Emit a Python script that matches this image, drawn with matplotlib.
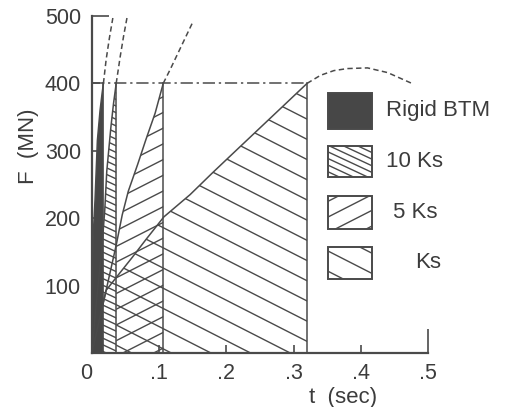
import matplotlib
matplotlib.use("Agg")
import matplotlib.pyplot as plt
import numpy as np
from matplotlib.patches import Polygon, Rectangle
from matplotlib.lines import Line2D
from matplotlib.transforms import IdentityTransform

# --- data (t in s, F in MN) ---
t_rigid = [0, 0.0015, 0.0045, 0.008, 0.012, 0.015, 0.017]
F_rigid = [0, 168, 227, 315, 360, 385, 400]
t_rigid_ext = [0.017, 0.021, 0.026, 0.031]
F_rigid_ext = [400, 435, 468, 497]

t_10ks = [0, 0.005, 0.01, 0.015, 0.019, 0.022, 0.028, 0.032, 0.036]
F_10ks = [0, 60, 110, 160, 212, 270, 334, 370, 400]
t_10ks_ext = [0.036, 0.042, 0.047, 0.052]
F_10ks_ext = [400, 440, 470, 497]

t_5ks = [0, 0.01, 0.021, 0.036, 0.045, 0.054, 0.068, 0.08, 0.094, 0.106]
F_5ks = [0, 45, 93, 160, 205, 240, 280, 316, 356, 400]
t_5ks_ext = [0.106, 0.117, 0.128, 0.139, 0.150]
F_5ks_ext = [400, 422, 445, 468, 491]

t_ks = [0, 0.01, 0.021, 0.04, 0.06, 0.08, 0.107, 0.146, 0.18, 0.216, 0.25, 0.284, 0.32]
F_ks = [0, 45, 93, 117, 142, 168, 202, 235, 268, 302, 334, 366, 400]
t_ks_ext = [0.32, 0.34, 0.36, 0.38, 0.41, 0.44, 0.476]
F_ks_ext = [400, 412, 419, 422, 423, 416, 400]

F_limit = 400
legend_labels = ["Rigid BTM", "10 Ks", "5 Ks", "Ks"]
xticks = [0, 0.1, 0.2, 0.3, 0.4, 0.5]
xticklabels = ["0", ".1", ".2", ".3", ".4", ".5"]
yticks = [100, 200, 300, 400, 500]

INK = "#4a4a4a"
DARK = "#474747"
TXT = "#3c3c3c"

plt.rcParams["font.family"] = ["Liberation Sans", "DejaVu Sans"]

fig = plt.figure(figsize=(5.05, 4.07), dpi=100)
ax = fig.add_axes([92 / 505, 54 / 407, 336 / 505, 337 / 407])
ax.set_xlim(0, 0.5)
ax.set_ylim(0, 500)


def add_hatch(patch, angle, spacing, lw=1.0, z=1.5):
    # straight hatch lines at any angle (pixel space), clipped to the patch
    verts = patch.get_transform().transform(patch.get_path().vertices)
    th = np.deg2rad(angle)
    d = np.array([np.cos(th), np.sin(th)])
    n = np.array([-np.sin(th), np.cos(th)])
    ref = ax.transAxes.transform((0, 0))
    proj = (verts - ref) @ n
    L = np.ptp(verts, axis=0).sum() + 20
    s0 = (verts.mean(axis=0) - ref) @ d
    for k in np.arange(np.floor(proj.min() / spacing), np.ceil(proj.max() / spacing) + 1):
        p0 = ref + n * k * spacing + d * s0
        ln = Line2D([p0[0] - d[0] * L, p0[0] + d[0] * L],
                    [p0[1] - d[1] * L, p0[1] + d[1] * L],
                    transform=IdentityTransform(), color=INK, lw=lw, zorder=z)
        ax.add_artist(ln)
        ln.set_clip_path(patch)


def region(t, F, z, face="none"):
    pts = list(zip(t, F)) + [(t[-1], 0), (0, 0)]
    p = Polygon(pts, closed=True, facecolor=face, edgecolor="none", zorder=z)
    ax.add_patch(p)
    return p


# Ks region (sparse, down-right)
p_ks = region(t_ks, F_ks, 1.0)
add_hatch(p_ks, -27, 18, z=1.1)
# 5 Ks region (up-right), overlaps Ks -> cross hatch
p_5 = region(t_5ks, F_5ks, 1.2)
add_hatch(p_5, 27, 14, z=1.3)
# 10 Ks region (dense, down-right) on white
p_10 = region(t_10ks, F_10ks, 2.0, face="white")
add_hatch(p_10, -25, 6, z=2.1)
# rigid BTM
region(t_rigid, F_rigid, 3.0, face=DARK)

# curves, limits of each region and dashed continuations
for t, F, te, Fe in [(t_rigid, F_rigid, t_rigid_ext, F_rigid_ext),
                     (t_10ks, F_10ks, t_10ks_ext, F_10ks_ext),
                     (t_5ks, F_5ks, t_5ks_ext, F_5ks_ext),
                     (t_ks, F_ks, t_ks_ext, F_ks_ext)]:
    ax.plot(t, F, color=INK, lw=1.1, zorder=4)
    ax.plot(te, Fe, color=INK, lw=1.1, ls=(0, (3.5, 2.2)), zorder=4)
    ax.plot([t[-1], t[-1]], [0, F[-1]], color=INK, lw=1.1, zorder=4)

ax.plot([0, t_ks[-1]], [F_limit, F_limit], color=INK, lw=1.1,
        ls=(0, (8, 2.5, 1.5, 2.5)), zorder=4)

# legend drawn by hand so the hatching matches
box_y = [0.665, 0.522, 0.368, 0.220]
box_h = [0.107, 0.092, 0.098, 0.095]
text_x = [0.875, 0.875, 0.896, 0.961]
for i, lab in enumerate(legend_labels):
    face = DARK if i == 0 else "white"
    r = Rectangle((0.702, box_y[i]), 0.131, box_h[i], transform=ax.transAxes,
                  facecolor=face, edgecolor=INK, lw=1.4, zorder=5, clip_on=False)
    ax.add_patch(r)
    if i == 1:
        add_hatch(r, -25, 6, z=5.1)
    elif i == 2:
        add_hatch(r, 27, 14, z=5.1)
    elif i == 3:
        add_hatch(r, -27, 18, z=5.1)
    ax.text(text_x[i], box_y[i] + box_h[i] / 2, lab, transform=ax.transAxes,
            ha="left", va="center", fontsize=16, color=TXT, clip_on=False)

# axes styling
for s in ["top", "right"]:
    ax.spines[s].set_visible(False)
for s in ["left", "bottom"]:
    ax.spines[s].set_color(INK)
    ax.spines[s].set_linewidth(1.6)

ax.set_xticks(xticks)
ax.set_xticklabels(xticklabels)
ax.set_yticks(yticks)
ax.tick_params(direction="in", length=5.5, width=1.2, color=INK,
               labelsize=15.5, labelcolor=TXT)
ax.tick_params(axis="x", pad=7)
ax.tick_params(axis="y", pad=8)
ax.yaxis.get_major_ticks()[-1].tick1line.set_markersize(12)
ax.xaxis.get_major_ticks()[-1].tick1line.set_markersize(17)
ax.xaxis.get_major_ticks()[0].label1.set_horizontalalignment("right")

ax.set_ylabel("F  (MN)", fontsize=16, color=TXT, va="center", ha="center")
ax.yaxis.set_label_coords(-0.19, 0.614)
ax.set_xlabel("t  (sec)", fontsize=16, color=TXT, va="center")
ax.xaxis.set_label_coords(0.747, -0.132)

fig.savefig("out.png", dpi=100)
